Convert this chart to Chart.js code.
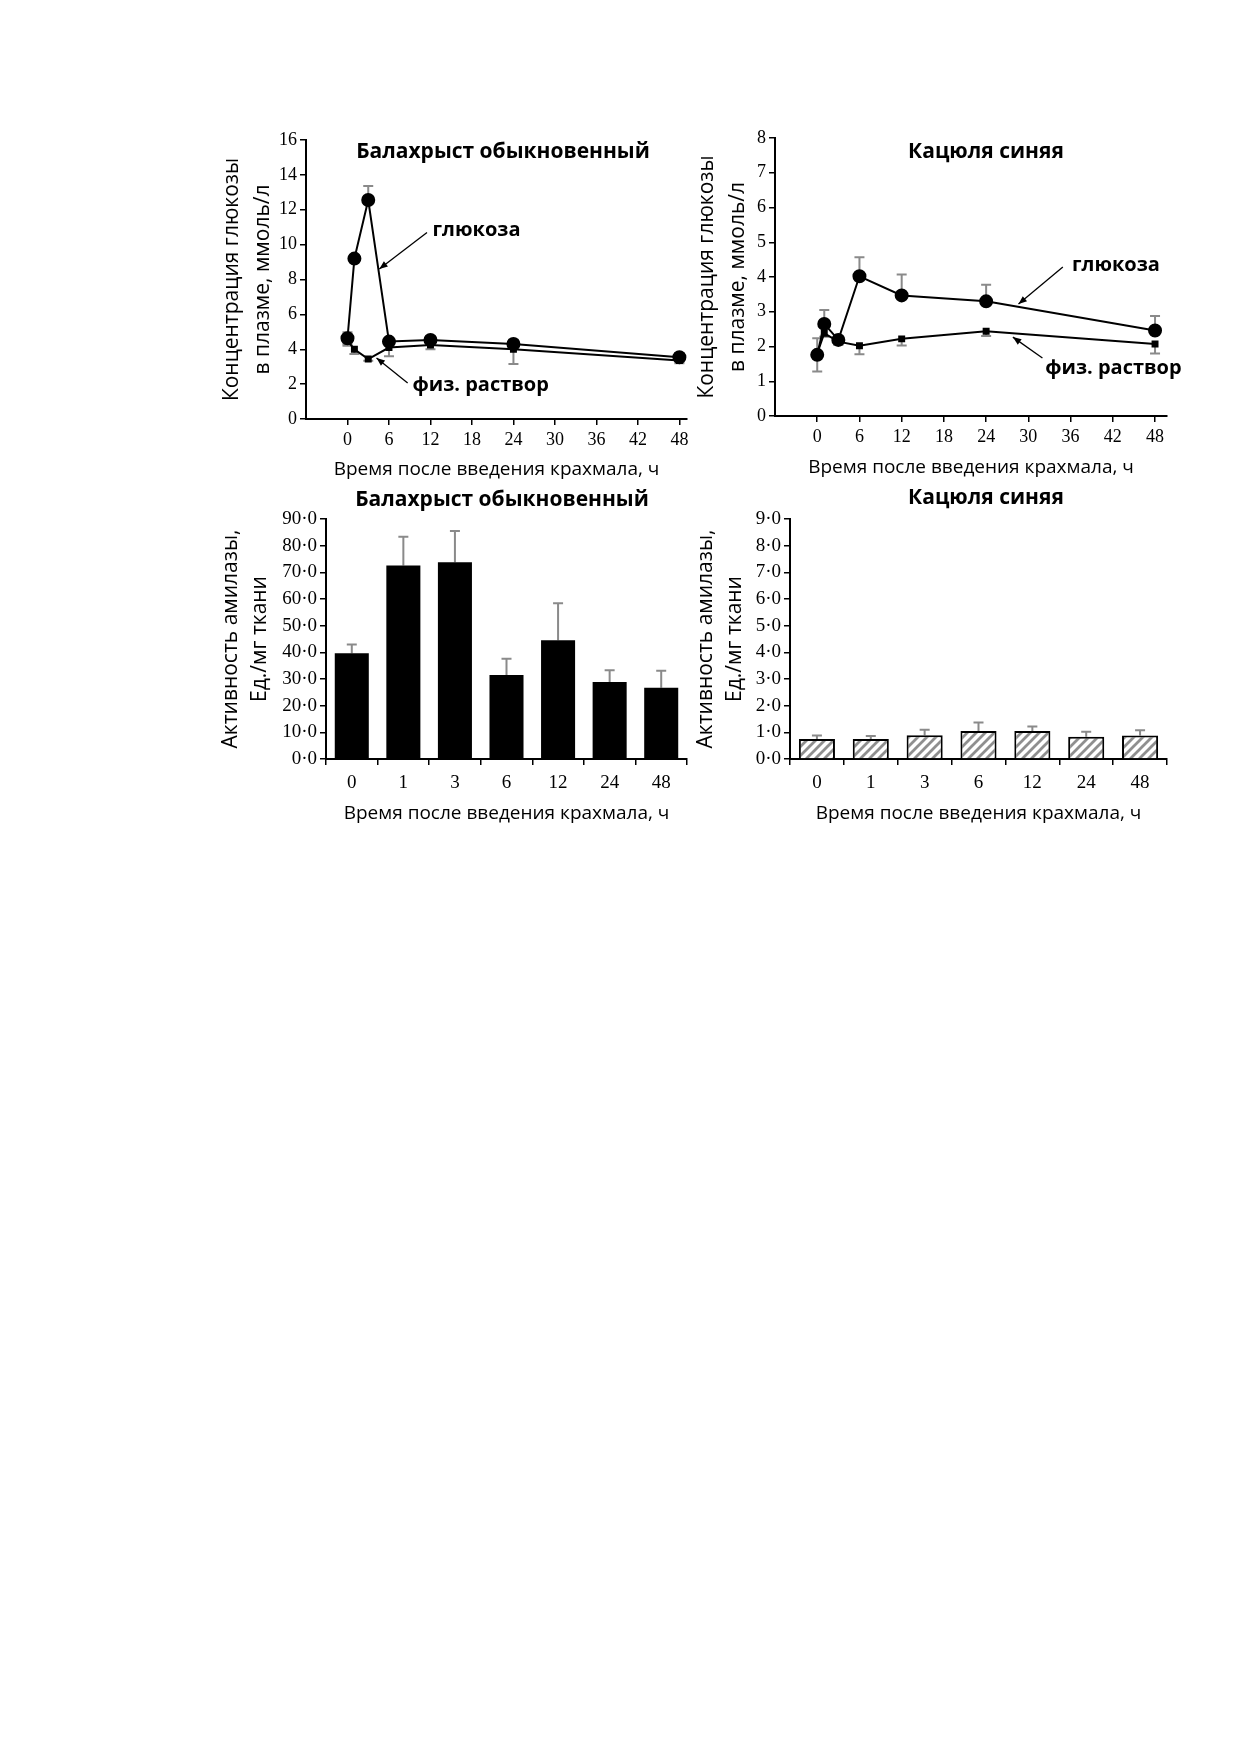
<!DOCTYPE html>
<html><head><meta charset="utf-8">
<script src="https://cdn.jsdelivr.net/npm/chart.js@4.4.1/dist/chart.umd.min.js"></script>
<style>
html,body{margin:0;padding:0;background:#fff;}
body{width:1240px;height:1754px;position:relative;overflow:hidden;}
canvas{position:absolute;}
</style></head><body>
<canvas id="c1" width="500" height="380" style="left:200px;top:110px"></canvas>
<canvas id="c2" width="520" height="380" style="left:690px;top:110px"></canvas>
<canvas id="c3" width="500" height="370" style="left:200px;top:470px"></canvas>
<canvas id="c4" width="520" height="370" style="left:690px;top:470px"></canvas>
<script>
// ---------- DATA ----------
const hours = [0, 1, 3, 6, 12, 24, 48];
const hourTicks = [0, 6, 12, 18, 24, 30, 36, 42, 48];
const barCategories = ['0', '1', '3', '6', '12', '24', '48'];

// Балахрыст обыкновенный – plasma glucose
const balGlucose      = [4.63, 9.2, 12.56, 4.44, 4.53, 4.3, 3.54];
const balGlucoseErrUp = [0.35, 0.2, 0.8, 0.2, 0.2, 0.25, 0.25];
const balGlucoseErrDn = [0.35, 0, 0, 0, 0, 0, 0];
const balSaline       = [4.5, 4.0, 3.44, 4.1, 4.24, 4.0, 3.35];
const balSalineErrDn  = [0.3, 0.27, 0.1, 0.5, 0.24, 0.85, 0.15];

// Кацюля синяя – plasma glucose
const kacGlucose      = [1.76, 2.65, 2.19, 4.02, 3.47, 3.30, 2.46];
const kacGlucoseErrUp = [0.48, 0.4, 0.1, 0.55, 0.6, 0.48, 0.42];
const kacGlucoseErrDn = [0.48, 0, 0, 0, 0, 0, 0];
const kacSaline       = [1.8, 2.38, 2.14, 2.02, 2.22, 2.44, 2.07];
const kacSalineErrDn  = [0, 0.1, 0.1, 0.24, 0.19, 0.14, 0.27];

// Amylase activity
const balAmylase    = [39.7, 72.6, 73.8, 31.5, 44.5, 28.9, 26.7];
const balAmylaseErr = [3.2, 10.7, 11.7, 6.1, 13.9, 4.4, 6.4];
const kacAmylase    = [0.75, 0.75, 0.89, 1.05, 1.05, 0.83, 0.88];
const kacAmylaseErr = [0.13, 0.11, 0.21, 0.32, 0.17, 0.19, 0.2];

const titleBal = 'Балахрыст обыкновенный';
const titleKac = 'Кацюля синяя';
const xTitle = 'Время после введения крахмала, ч';
const yTitleGlucose = ['Концентрация глюкозы', 'в плазме, ммоль/л'];
const yTitleAmylase = ['Активность амилазы,', 'Ед./мг ткани'];
const labelGlucose = 'глюкоза';
const labelSaline = 'физ. раствор';

// ---------- HELPERS ----------
const SANS = "'Open Sans', 'Noto Sans', sans-serif";
const SERIF = "'Liberation Serif', 'DejaVu Serif', serif";
const toXY = (xs, ys) => xs.map((x, i) => ({x: x, y: ys[i]}));

const errorBars = {
  id: 'errorBars',
  beforeDatasetsDraw(chart) {
    const ctx = chart.ctx;
    const ys = chart.scales.y;
    chart.data.datasets.forEach((ds, i) => {
      const meta = chart.getDatasetMeta(i);
      meta.data.forEach((el, j) => {
        const raw = ds.data[j];
        const v = typeof raw === 'object' ? raw.y : raw;
        const up = ds.errUp ? ds.errUp[j] : 0;
        const dn = ds.errDn ? ds.errDn[j] : 0;
        const cap = ds.capWidth || 5;
        ctx.save();
        ctx.strokeStyle = '#8a8a8a';
        ctx.lineWidth = 2;
        [[up, 1], [dn, -1]].forEach(([e, s]) => {
          if (!e) return;
          const y0 = ys.getPixelForValue(v);
          const y1 = ys.getPixelForValue(v + s * e);
          ctx.beginPath();
          ctx.moveTo(el.x, y0); ctx.lineTo(el.x, y1);
          ctx.moveTo(el.x - cap, y1); ctx.lineTo(el.x + cap, y1);
          ctx.stroke();
        });
        ctx.restore();
      });
    });
  }
};

const panelTitle = {
  id: 'panelTitle',
  afterDraw(chart, args, opts) {
    if (!opts || !opts.text) return;
    const ctx = chart.ctx;
    ctx.save();
    ctx.font = 'bold 21px ' + SANS;
    ctx.fillStyle = '#000';
    ctx.textAlign = 'center';
    ctx.textBaseline = 'middle';
    ctx.fillText(opts.text, opts.x, opts.y);
    ctx.restore();
  }
};

const notes = {
  id: 'notes',
  afterDatasetsDraw(chart, args, opts) {
    if (!opts || !opts.items) return;
    const ctx = chart.ctx, xs = chart.scales.x, ys = chart.scales.y;
    opts.items.forEach(n => {
      const tx = xs.getPixelForValue(n.tx), ty = ys.getPixelForValue(n.ty);
      const x0 = xs.getPixelForValue(n.from[0]), y0 = ys.getPixelForValue(n.from[1]);
      const x1 = xs.getPixelForValue(n.to[0]), y1 = ys.getPixelForValue(n.to[1]);
      ctx.save();
      ctx.fillStyle = '#000';
      ctx.font = 'bold 20px ' + SANS;
      ctx.textAlign = 'left';
      ctx.textBaseline = 'middle';
      ctx.fillText(n.text, tx, ty);
      ctx.strokeStyle = '#000';
      ctx.lineWidth = 1.3;
      ctx.beginPath(); ctx.moveTo(x0, y0); ctx.lineTo(x1, y1); ctx.stroke();
      const a = Math.atan2(y1 - y0, x1 - x0), L = 9, W = 0.38;
      ctx.beginPath();
      ctx.moveTo(x1, y1);
      ctx.lineTo(x1 - L * Math.cos(a - W), y1 - L * Math.sin(a - W));
      ctx.lineTo(x1 - L * Math.cos(a + W), y1 - L * Math.sin(a + W));
      ctx.closePath(); ctx.fill();
      ctx.restore();
    });
  }
};

function hatch() {
  const s = 9;
  const c = document.createElement('canvas');
  c.width = s; c.height = s;
  const g = c.getContext('2d');
  g.fillStyle = '#fff'; g.fillRect(0, 0, s, s);
  g.strokeStyle = '#8f8f8f'; g.lineWidth = 2.8;
  g.beginPath();
  g.moveTo(-2, s + 2); g.lineTo(s + 2, -2);
  g.moveTo(-2, 2); g.lineTo(2, -2);
  g.moveTo(s - 2, s + 2); g.lineTo(s + 2, s - 2);
  g.stroke();
  return g.createPattern(c, 'repeat');
}

Chart.defaults.animation = false;
Chart.defaults.color = '#000';

function axisCommon() {
  return {
    grid: {drawOnChartArea: false, drawTicks: true, tickLength: 6, color: '#000', lineWidth: 1.5},
    border: {color: '#000', width: 2},
  };
}

function lineChart(id, cfg) {
  new Chart(document.getElementById(id), {
    type: 'line',
    data: {
      datasets: [
        {data: toXY(hours, cfg.glucose), errUp: cfg.gUp, errDn: cfg.gDn, borderColor: '#000', backgroundColor: '#000',
         borderWidth: 2, pointRadius: 6, pointStyle: 'circle', tension: 0, capWidth: 5},
        {data: toXY(hours, cfg.saline), errDn: cfg.sDn, borderColor: '#000', backgroundColor: '#000',
         borderWidth: 2, pointRadius: 3.5, pointStyle: 'rect', tension: 0, capWidth: 5}
      ]
    },
    options: {
      responsive: false,
      devicePixelRatio: 1,
      layout: {padding: cfg.padding},
      plugins: {legend: {display: false}, tooltip: {enabled: false},
        panelTitle: cfg.title, notes: {items: cfg.notes}},
      scales: {
        x: Object.assign(axisCommon(), {
          type: 'linear', min: -6, max: cfg.xMax,
          ticks: {font: {family: SERIF, size: 18}, color: '#000', padding: 4, maxRotation: 0, autoSkip: false},
          afterBuildTicks: s => { s.ticks = hourTicks.map(v => ({value: v})); },
          afterFit: s => { s.height = cfg.xH; },
          title: {display: true, text: xTitle, font: {family: SANS, size: 19}, color: '#000', padding: {top: 0, bottom: cfg.xTitlePad}}
        }),
        y: Object.assign(axisCommon(), {
          min: 0, max: cfg.yMax,
          ticks: {stepSize: cfg.yStep, font: {family: SERIF, size: 18}, color: '#000', padding: 3},
          afterFit: s => { s.width = cfg.yW; },
          title: {display: true, text: yTitleGlucose, font: {family: SANS, size: 21, lineHeight: 1.45}, color: '#000', padding: {top: cfg.yTitlePad, bottom: 0}}
        })
      }
    },
    plugins: [errorBars, notes, panelTitle]
  });
}

function barChart(id, cfg) {
  new Chart(document.getElementById(id), {
    type: 'bar',
    data: {
      labels: barCategories,
      datasets: [{data: cfg.values, errUp: cfg.err, backgroundColor: cfg.fill, borderColor: '#000',
        borderWidth: cfg.border, barPercentage: cfg.barPct, categoryPercentage: 1, capWidth: 5}]
    },
    options: {
      responsive: false,
      devicePixelRatio: 1,
      layout: {padding: cfg.padding},
      plugins: {legend: {display: false}, tooltip: {enabled: false}, panelTitle: cfg.title},
      scales: {
        x: Object.assign(axisCommon(), {
          type: 'category', offset: true,
          grid: {drawOnChartArea: false, drawTicks: true, tickLength: 6, color: '#000', lineWidth: 1.5, offset: true},
          ticks: {font: {family: SERIF, size: 19}, color: '#000', padding: 7, maxRotation: 0},
          afterFit: s => { s.height = cfg.xH; },
          title: {display: true, text: xTitle, font: {family: SANS, size: 19}, color: '#000', padding: {top: 0, bottom: cfg.xTitlePad}}
        }),
        y: Object.assign(axisCommon(), {
          min: 0, max: cfg.yMax,
          ticks: {stepSize: cfg.yStep, font: {family: SERIF, size: 19}, color: '#000', padding: 3,
            callback: v => v.toFixed(1).replace('.', '·')},
          afterFit: s => { s.width = cfg.yW; },
          title: {display: true, text: yTitleAmylase, font: {family: SANS, size: 21, lineHeight: 1.35}, color: '#000', padding: {top: cfg.yTitlePad, bottom: 0}}
        })
      }
    },
    plugins: [errorBars, panelTitle]
  });
}

lineChart('c1', {
  glucose: balGlucose, gUp: balGlucoseErrUp, gDn: balGlucoseErrDn, saline: balSaline, sDn: balSalineErrDn,
  padding: {top: 30, right: 13, left: 0, bottom: 0}, xMax: 49.1, xH: 71, yW: 106, yMax: 16, yStep: 2,
  xTitlePad: 9, yTitlePad: 17,
  title: {text: titleBal, x: 303, y: 42},
  notes: [
    {text: labelGlucose, tx: 12.3, ty: 10.8, from: [11.5, 10.7], to: [4.6, 8.6]},
    {text: labelSaline, tx: 9.4, ty: 1.95, from: [8.7, 2.06], to: [4.2, 3.5]}
  ]
});

lineChart('c2', {
  glucose: kacGlucose, gUp: kacGlucoseErrUp, gDn: kacGlucoseErrDn, saline: kacSaline, sDn: kacSalineErrDn,
  padding: {top: 28, right: 43, left: 0, bottom: 0}, xMax: 49.7, xH: 74, yW: 85, yMax: 8, yStep: 1,
  xTitlePad: 11, yTitlePad: 2,
  title: {text: titleKac, x: 296, y: 42},
  notes: [
    {text: labelGlucose, tx: 36.2, ty: 4.35, from: [34.9, 4.29], to: [28.6, 3.22]},
    {text: labelSaline, tx: 32.4, ty: 1.38, from: [32.0, 1.67], to: [27.8, 2.27]}
  ]
});

barChart('c3', {
  values: balAmylase, err: balAmylaseErr, fill: '#000', border: 0, barPct: 0.66,
  padding: {top: 49, right: 13, left: 0, bottom: 0}, xH: 81, yW: 126, yMax: 90, yStep: 10,
  xTitlePad: 15, yTitlePad: 17,
  title: {text: titleBal, x: 302, y: 30}
});

barChart('c4', {
  values: kacAmylase, err: kacAmylaseErr, fill: hatch(), border: 2, barPct: 0.67,
  padding: {top: 49, right: 43, left: 0, bottom: 0}, xH: 81, yW: 100, yMax: 9, yStep: 1,
  xTitlePad: 15, yTitlePad: 2,
  title: {text: titleKac, x: 296, y: 28}
});
</script>
</body></html>
